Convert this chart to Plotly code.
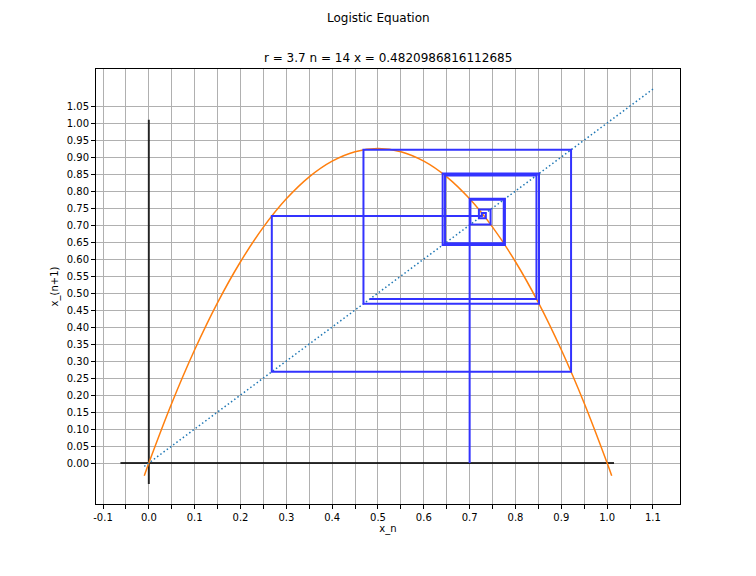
import plotly.graph_objects as go

# Logistic map parameters (from the title)
r_value = 3.7
n_value = 14
final_x = "0.4820986816112685"

# Iterates of the cobweb (x0 .. x15)
iterates = [0.7, 0.777, 0.6411, 0.8513, 0.4683, 0.9213, 0.2683, 0.7264,
            0.7353, 0.7202, 0.7457, 0.7017, 0.7744, 0.6463, 0.8458, 0.4821]

# Parabola samples
curve_x = [-0.01, 0.0, 0.05, 0.1, 0.15, 0.2, 0.25, 0.3, 0.35, 0.4, 0.45, 0.5,
           0.55, 0.6, 0.65, 0.7, 0.75, 0.8, 0.85, 0.9, 0.95, 1.0, 1.01]
curve_y = [-0.0374, 0.0, 0.1758, 0.333, 0.4718, 0.592, 0.6938, 0.777, 0.8418, 0.888, 0.9158, 0.925,
           0.9158, 0.888, 0.8418, 0.777, 0.6938, 0.592, 0.4718, 0.333, 0.1758, 0.0, -0.0374]

# Diagonal y = x
diag_x = [-0.01, 1.1]
diag_y = [-0.01, 1.1]

# Black axis lines
hline_x = [-0.062, 1.015]
hline_y = [0.0, 0.0]
vline_x = [0.0, 0.0]
vline_y = [-0.062, 1.01]

x_tick_vals = [-0.1, -0.05, 0.0, 0.05, 0.1, 0.15, 0.2, 0.25, 0.3, 0.35, 0.4, 0.45, 0.5,
               0.55, 0.6, 0.65, 0.7, 0.75, 0.8, 0.85, 0.9, 0.95, 1.0, 1.05, 1.1]
x_tick_text = ["-0.1", "", "0.0", "", "0.1", "", "0.2", "", "0.3", "", "0.4", "", "0.5",
               "", "0.6", "", "0.7", "", "0.8", "", "0.9", "", "1.0", "", "1.1"]
y_tick_vals = [0.0, 0.05, 0.1, 0.15, 0.2, 0.25, 0.3, 0.35, 0.4, 0.45, 0.5, 0.55,
               0.6, 0.65, 0.7, 0.75, 0.8, 0.85, 0.9, 0.95, 1.0, 1.05]
y_tick_text = ["%.2f" % v for v in y_tick_vals]

# Build cobweb path from iterates
cob_x = [iterates[0]]
cob_y = [0.0]
for i in range(len(iterates) - 1):
    cob_x += [iterates[i], iterates[i + 1]]
    cob_y += [iterates[i + 1], iterates[i + 1]]

fig = go.Figure()
fig.add_trace(go.Scatter(x=hline_x, y=hline_y, mode="lines",
                         line=dict(color="rgba(0,0,0,0.8)", width=2), hoverinfo="skip"))
fig.add_trace(go.Scatter(x=vline_x, y=vline_y, mode="lines",
                         line=dict(color="rgba(0,0,0,0.8)", width=2), hoverinfo="skip"))
fig.add_trace(go.Scatter(x=curve_x, y=curve_y, mode="lines",
                         line=dict(color="#ff7f0e", width=1.5, shape="spline")))
fig.add_trace(go.Scatter(x=diag_x, y=diag_y, mode="lines",
                         line=dict(color="#1f77b4", width=1.5, dash="1.5px,2.5px")))
fig.add_trace(go.Scatter(x=cob_x, y=cob_y, mode="lines",
                         line=dict(color="#3333ff", width=2)))

font = dict(family="DejaVu Sans", size=10, color="black")
fig.update_layout(
    width=756, height=576,
    paper_bgcolor="white", plot_bgcolor="white",
    showlegend=False,
    margin=dict(l=88, r=84, t=61, b=80),
    font=font,
    annotations=[
        dict(text="Logistic Equation", x=0.5, y=1, xref="paper", yref="paper",
             xanchor="center", yanchor="bottom", showarrow=False,
             font=dict(family="DejaVu Sans", size=12, color="black"), yshift=42, xshift=-10),
        dict(text="r = %s n = %d x = %s" % (r_value, n_value, final_x), x=0.5, y=1,
             xref="paper", yref="paper", xanchor="center", yanchor="bottom", showarrow=False,
             font=dict(family="DejaVu Sans", size=12, color="black"), yshift=2),
    ],
    xaxis=dict(range=[-0.1153, 1.159], tickvals=x_tick_vals, ticktext=x_tick_text,
               showgrid=True, gridcolor="#b0b0b0", gridwidth=1, zeroline=False,
               showline=True, linecolor="black", linewidth=1, mirror=True,
               ticks="outside", ticklen=4, tickcolor="black", automargin=False,
               title=dict(text="x_n", font=font, standoff=2)),
    yaxis=dict(range=[-0.1206, 1.159], tickvals=y_tick_vals, ticktext=y_tick_text,
               showgrid=True, gridcolor="#b0b0b0", gridwidth=1, zeroline=False,
               showline=True, linecolor="black", linewidth=1, mirror=True,
               ticks="outside", ticklen=4, tickcolor="black", automargin=False,
               title=dict(text="x_(n+1)", font=font, standoff=6)),
)

fig.write_html("out.html")
